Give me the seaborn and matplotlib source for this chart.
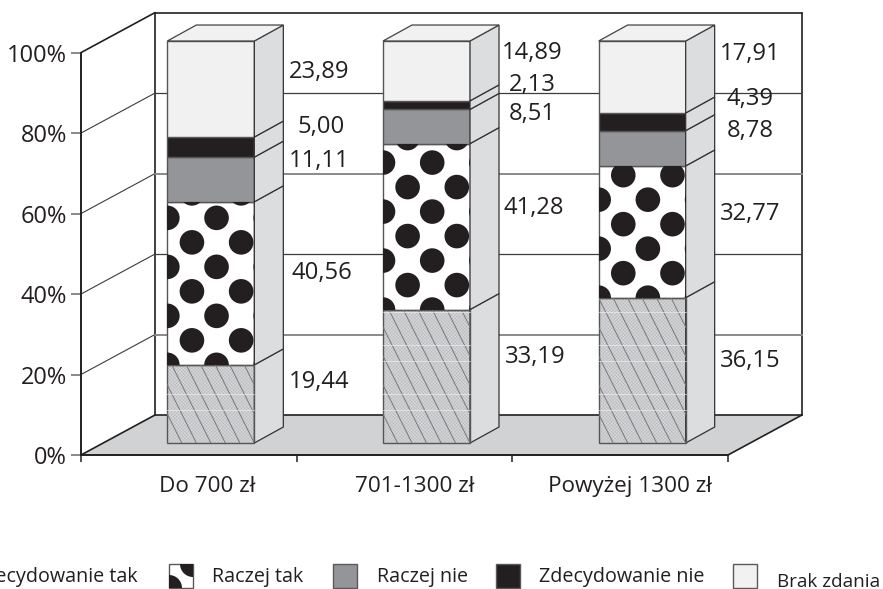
import matplotlib
matplotlib.use('Agg')
import numpy as np
import matplotlib.pyplot as plt
import seaborn as sns
from matplotlib.patches import Polygon, Rectangle, Circle

# Values (%)
categories = ['Do 700 zł', '701-1300 zł', 'Powyżej 1300 zł']
zdec_tak = [19.44, 33.19, 36.15]
raczej_tak = [40.56, 41.28, 32.77]
raczej_nie = [11.11, 8.51, 8.78]
zdec_nie = [5.00, 2.13, 4.39]
brak = [23.89, 14.89, 17.91]
series_names = ['Zdecydowanie tak', 'Raczej tak', 'Raczej nie', 'Zdecydowanie nie', 'Brak zdania']
y_ticks = [0, 20, 40, 60, 80, 100]

W, H = 883, 589
sns.set_style('white')
plt.rcParams['font.family'] = ['Open Sans', 'DejaVu Sans']
plt.rcParams['hatch.linewidth'] = 0.3
TXT = '#231f20'
DARK = '#231f20'


def axes_rect(x0, y_top, x1, y_bot):
    return [x0 / W, 1 - y_bot / H, (x1 - x0) / W, (y_bot - y_top) / H]


fig = plt.figure(figsize=(W / 100, H / 100), dpi=100, facecolor='white')

# front plane of the 3d box, carries the ticks
ax = fig.add_axes(axes_rect(81, 52.6, 728, 455))
ax.set_xlim(-0.5, 2.5)
ax.set_ylim(0, 100)
ax.patch.set_alpha(0)
for s in ['top', 'right']:
    ax.spines[s].set_visible(False)
ax.spines['left'].set_color(DARK)
ax.spines['left'].set_linewidth(1.4)
ax.spines['bottom'].set_color(DARK)
ax.spines['bottom'].set_linewidth(1.4)

# depth of the box and of the bars, in data units
unit_x = 647 / 3
unit_y = 402.4 / 100
box_dx, box_dy = 74 / unit_x, 40 / unit_y
bar_dx, bar_dy = 29 / unit_x, 16 / unit_y

ax.add_patch(Polygon([(-0.5, 0), (-0.5 + box_dx, box_dy), (2.5 + box_dx, box_dy), (2.5, 0)],
                     closed=True, facecolor='#d1d2d4', edgecolor='none', clip_on=False, zorder=1))
wall_kw = dict(color=DARK, lw=1.2, clip_on=False, zorder=2)
ax.plot([-0.5, -0.5 + box_dx], [100, 100 + box_dy], **wall_kw)
ax.plot([-0.5, -0.5 + box_dx], [0, box_dy], **wall_kw)
ax.plot([2.5, 2.5 + box_dx], [0, box_dy], **wall_kw)
ax.plot([-0.5 + box_dx] * 2, [box_dy, 100 + box_dy], **wall_kw)
ax.plot([2.5 + box_dx] * 2, [box_dy, 100 + box_dy], **wall_kw)
ax.plot([-0.5 + box_dx, 2.5 + box_dx], [100 + box_dy] * 2, **wall_kw)
ax.plot([-0.5 + box_dx, 2.5 + box_dx], [box_dy] * 2, **wall_kw)

# gridlines: side wall and back wall
grid_styles = {20: ('#8a8a8a', 1.4), 40: ('#3c3c3c', 0.9), 60: ('#8a8a8a', 1.4), 80: ('#3c3c3c', 0.9)}
for t in y_ticks[1:-1]:
    ax.plot([-0.5, -0.5 + box_dx], [t, t + box_dy], color='#3c3c3c', lw=0.8, clip_on=False, zorder=2)
    c, lw = grid_styles[t]
    ax.plot([-0.5 + box_dx, 2.5 + box_dx], [t + box_dy] * 2, color=c, lw=lw, clip_on=False, zorder=2)

ax.set_yticks(y_ticks)
ax.set_yticklabels([f'{t}%' for t in y_ticks], fontsize=17, color=TXT)
ax.tick_params(axis='y', length=7, width=1.3, color='#808080', pad=3, left=True)

# labels sit a little right of the category centres
label_shift = np.array([18, 10, 10]) / unit_x
ax.set_xticks(np.arange(3) + label_shift)
ax.set_xticklabels(categories, fontsize=16.2, color=TXT)
ax.tick_params(axis='x', which='major', length=0, pad=15)
ax.set_xticks([-0.5, 0.5, 1.5, 2.5], minor=True)
ax.tick_params(axis='x', which='minor', length=5, width=1.1, color=DARK, bottom=True)

# bars, front face is shifted into the box
ax_bars = fig.add_axes(axes_rect(81 + 22, 41, 728 + 22, 443))
ax_bars.patch.set_alpha(0)

columns = [zdec_tak, raczej_tak, raczej_nie, zdec_nie, brak]
colors = ['#d6d7d8', '#ffffff', '#939598', '#231f20', '#f1f1f2']
side_color = '#dcdddf'
bottoms = np.zeros(3)
edges = []
for vals, col in zip(columns, colors):
    sns.barplot(x=categories, y=vals, bottom=bottoms, color=col, saturation=1, width=87 / unit_x,
                edgecolor='#555555', linewidth=1.0, ax=ax_bars)
    edges.append(bottoms.copy())
    bottoms = bottoms + np.array(vals)
edges.append(bottoms.copy())
ax_bars.set_xlim(-0.5, 2.5)
ax_bars.set_ylim(0, 100)
ax_bars.axis('off')

# side and top faces of the bars
for i in range(3):
    x1 = i + 87 / unit_x / 2
    x0 = i - 87 / unit_x / 2
    for j in range(5):
        y0, y1 = edges[j][i], edges[j + 1][i]
        ax_bars.add_patch(Polygon([(x1, y0), (x1 + bar_dx, y0 + bar_dy), (x1 + bar_dx, y1 + bar_dy), (x1, y1)],
                                  closed=True, facecolor=side_color, edgecolor='#333333', lw=0.9, clip_on=False))
    ax_bars.add_patch(Polygon([(x0, 100), (x0 + bar_dx, 100 + bar_dy), (x1 + bar_dx, 100 + bar_dy), (x1, 100)],
                              closed=True, facecolor='#f1f1f2', edgecolor='#444444', lw=0.9, clip_on=False))

# overlay in pixel coordinates: textures, value labels, legend
ax_px = fig.add_axes([0, 0, 1, 1])
ax_px.set_xlim(0, W)
ax_px.set_ylim(H, 0)
ax_px.axis('off')
ax_px.patch.set_alpha(0)


def bar_box(patch):
    ext = patch.get_window_extent()
    return ext.x0, H - ext.y1, ext.x1, H - ext.y0


def draw_dots(clip, left, top, right, bottom, r=12.3):
    # staggered dot pattern anchored at the lower left corner of the segment
    k = 0
    y = bottom
    while y > top - r:
        x = left + (24.6 if k % 2 else 0)
        while x < right + r:
            c = Circle((x, y), r, facecolor=DARK, edgecolor='none')
            ax_px.add_patch(c)
            c.set_clip_path(clip)
            x += 49.2
        y -= 24.5
        k += 1


def draw_stipple(clip, left, top, right, bottom):
    # diagonal stripes
    for x in np.arange(left - 80, right + 10, 14.5):
        ln, = ax_px.plot([x, x + 80], [bottom - 160, bottom], color='#77787b', lw=0.7)
        ln.set_clip_path(clip)
    # pale scan lines of the print texture
    for base in [33, 82, 131, 49, 98]:
        if bottom - base > top:
            ax_px.plot([left, right], [bottom - base] * 2, color='#ececec', lw=0.5)


for p in ax_bars.containers[0]:
    p.set_hatch('xxxxxxxxxx')
    p.set_edgecolor('#b4b5b8')
    p.set_linewidth(0)
    l, t, r, b = bar_box(p)
    draw_stipple(p, l, t, r, b)
    ax_px.add_patch(Rectangle((l, t), r - l, b - t, fill=False, edgecolor='#555555', lw=1.0))
for p in ax_bars.containers[1]:
    draw_dots(p, *bar_box(p))

# value labels, placed by hand next to the bars like in the original
label_pos = [
    [(319, 381), (322, 272), (319, 160), (321, 126), (319, 71)],
    [(535, 356), (534, 207), (532, 113), (532, 84), (532, 52)],
    [(750, 360), (750, 213), (750, 130), (750, 98), (750, 53)],
]
for i in range(3):
    for j in range(5):
        txt = f'{columns[j][i]:.2f}'.replace('.', ',')
        ax_px.text(label_pos[i][j][0], label_pos[i][j][1] + 1, txt, ha='center', va='center',
                   fontsize=17.1, color=TXT)

# legend
leg_x = [None, 169, 333, 496, 733]
leg_text_x = [138, 212, 377, 539, 777]
leg_text_y = [577, 577, 577, 577, 582]
leg_size = [14.2, 14.2, 14.2, 14.2, 13.6]
for j, name in enumerate(series_names):
    ax_px.text(leg_text_x[j], leg_text_y[j], name, ha='right' if j == 0 else 'left', va='center',
               fontsize=leg_size[j], color=TXT)
    if leg_x[j] is None:
        continue
    sw = Rectangle((leg_x[j], 564), 24, 24, facecolor=colors[j], edgecolor='#58595b', lw=1.0)
    ax_px.add_patch(sw)
    if j == 1:
        for cx, cy in [(leg_x[j] + 24, 564), (leg_x[j], 588)]:
            c = Circle((cx, cy), 13, facecolor=DARK, edgecolor='none')
            ax_px.add_patch(c)
            c.set_clip_path(sw)

fig.savefig('out.png', dpi=100)
